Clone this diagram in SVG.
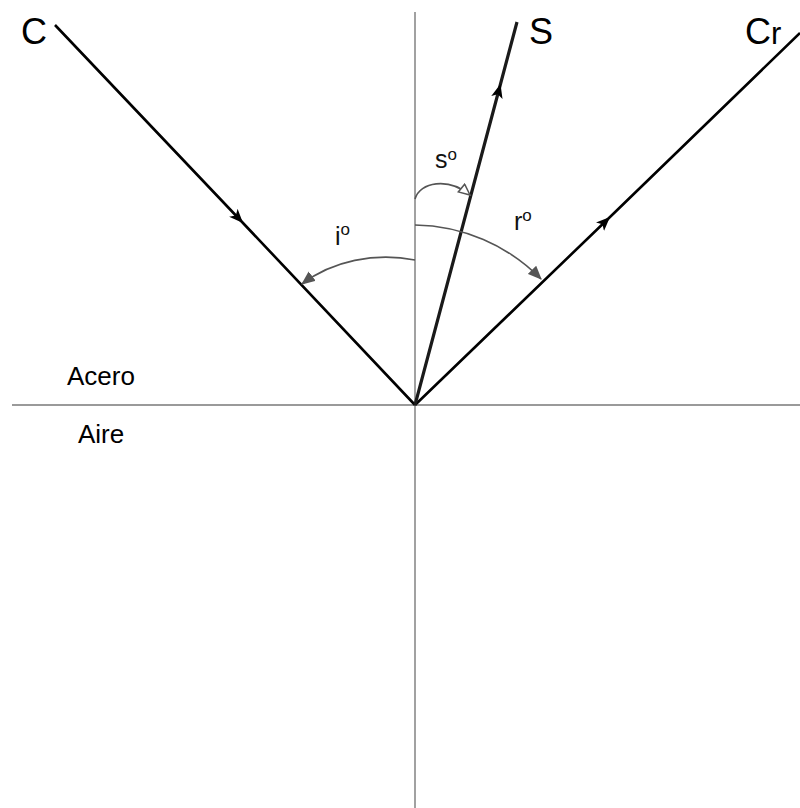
<svg xmlns="http://www.w3.org/2000/svg" width="800" height="808" viewBox="0 0 800 808">
<defs>
<style>
.axis{stroke:#8a8a8a;stroke-width:1.6;fill:none}
.axish{stroke:#9a9a9a;stroke-width:2.2;fill:none}
.ray{stroke:#000;stroke-width:2.6;fill:none}
.rayS{stroke:#1a1a1a;stroke-width:3.2;fill:none}
.arc{stroke:#555;stroke-width:1.6;fill:none}
.big{font-family:"Liberation Sans",Arial,sans-serif;font-size:36px;fill:#000}
.med{font-family:"Liberation Sans",Arial,sans-serif;font-size:26px;fill:#000}
.ang{font-family:"Liberation Sans",Arial,sans-serif;font-size:25px;fill:#111}
</style>
<marker id="mid" viewBox="0 0 12 10" refX="12" refY="5" markerWidth="14" markerHeight="12" markerUnits="userSpaceOnUse" orient="auto">
<path d="M0,0 L12,5 L0,10 L3,5 Z" fill="#000"/>
</marker>
<marker id="fill" viewBox="0 0 12 10" refX="11" refY="5" markerWidth="14" markerHeight="12" markerUnits="userSpaceOnUse" orient="auto">
<path d="M0,0 L12,5 L0,10 Z" fill="#555"/>
</marker>
<marker id="open" viewBox="0 0 14 12" refX="12" refY="6" markerWidth="14" markerHeight="12" markerUnits="userSpaceOnUse" orient="auto">
<path d="M1,1 L12,6 L1,11 Z" fill="#fff" stroke="#555" stroke-width="1.5"/>
</marker>
</defs>
<rect width="800" height="808" fill="#fff"/>
<g id="axes">
<line class="axis" x1="415" y1="12" x2="415" y2="808"/>
<line class="axish" x1="12" y1="405" x2="800" y2="405"/>
</g>
<g id="connectors">
<path id="ray-C" class="ray" d="M55,25 L243,223 L415,405" marker-mid="url(#mid)"/>
<path id="ray-Cr" class="ray" d="M415,405 L610,217 L800,33" marker-mid="url(#mid)"/>
<path id="ray-S" class="rayS" d="M415,405 L500.5,84 L517,22" marker-mid="url(#mid)"/>
<path id="arc-s" class="arc" d="M415,199 C420,182 448,177 470,195" marker-end="url(#open)"/>
<path id="arc-r" class="arc" d="M415,225 A180,180 0 0 1 541,279" marker-end="url(#fill)"/>
<path id="arc-i" class="arc" d="M415,260 C375,252 332,261 302,284" marker-end="url(#fill)"/>
</g>
<g id="label-C"><text class="big" x="21" y="44">C</text></g>
<g id="label-S"><text class="big" x="529" y="44">S</text></g>
<g id="label-Cr"><text class="big" x="745" y="44">C<tspan font-size="31">r</tspan></text></g>
<g id="label-Acero"><text class="med" x="67" y="385">Acero</text></g>
<g id="label-Aire"><text class="med" x="78" y="443">Aire</text></g>
<g id="label-s"><text class="ang" x="435" y="168">s<tspan font-size="17" dy="-8">o</tspan></text></g>
<g id="label-i"><text class="ang" x="335" y="245">i<tspan font-size="17" dy="-10">o</tspan></text></g>
<g id="label-r"><text class="ang" x="514" y="230">r<tspan font-size="17" dy="-9">o</tspan></text></g>
</svg>
